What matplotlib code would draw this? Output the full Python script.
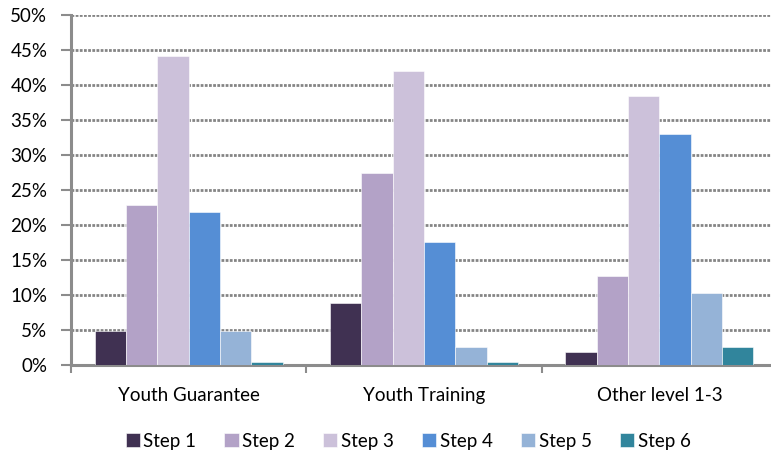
import matplotlib
matplotlib.use('Agg')
import matplotlib.pyplot as plt
import numpy as np

categories = ['Youth Guarantee', 'Youth Training', 'Other level 1-3']
steps = ['Step 1', 'Step 2', 'Step 3', 'Step 4', 'Step 5', 'Step 6']
# share of learners per step, in percent
step1 = [4.8, 8.8, 1.8]
step2 = [22.8, 27.4, 12.7]
step3 = [44.2, 42.0, 38.4]
step4 = [21.8, 17.5, 33.0]
step5 = [4.8, 2.5, 10.2]
step6 = [0.4, 0.3, 2.5]
colors = ['#403152', '#b3a2c7', '#ccc1da', '#558ed5', '#95b3d7', '#31859c']

series = [step1, step2, step3, step4, step5, step6]

plt.rcParams['font.family'] = ['Lato', 'DejaVu Sans']

fig = plt.figure(figsize=(7.71, 4.57), dpi=100)
ax = fig.add_axes([71 / 771, 92.5 / 457, 706 / 771, 349.2 / 457])

x = np.arange(len(categories))
width = 0.8 / len(steps)
for i, (vals, name) in enumerate(zip(series, steps)):
    pos = x - 0.4 + width * (i + 0.5)
    ax.bar(pos, vals, width, color=colors[i], label=name,
           edgecolor='white', linewidth=0.4, zorder=3)

fs = 13.5
ax.set_xlim(-0.5, 2.5)
ax.set_ylim(0, 50)
ax.set_yticks(range(0, 51, 5))
ax.set_yticklabels(['{}%'.format(v) for v in range(0, 51, 5)], fontsize=fs)
ax.yaxis.grid(True, linestyle=(0, (1, 0.5)), color='#858585', linewidth=2, zorder=0)

ax.set_xticks(x)
ax.set_xticklabels(categories, fontsize=fs)
ax.set_xticks([-0.5, 0.5, 1.5, 2.5], minor=True)
ax.tick_params(axis='x', which='major', length=0, pad=16)
ax.tick_params(axis='x', which='minor', length=6, width=1.5, color='#8c8c8c')
ax.tick_params(axis='y', length=7, width=1.5, color='#8c8c8c', pad=10)

for s in ['top', 'right']:
    ax.spines[s].set_visible(False)
for s in ['left', 'bottom']:
    ax.spines[s].set_color('#8c8c8c')
    ax.spines[s].set_linewidth(2.2)

fig.legend(loc='center', bbox_to_anchor=(408 / 771, 1 - 441 / 457), ncol=6,
           frameon=False, fontsize=fs, handlelength=0.75, handleheight=0.75,
           handletextpad=0.2, columnspacing=1.5)

fig.savefig('out.png', dpi=100)
